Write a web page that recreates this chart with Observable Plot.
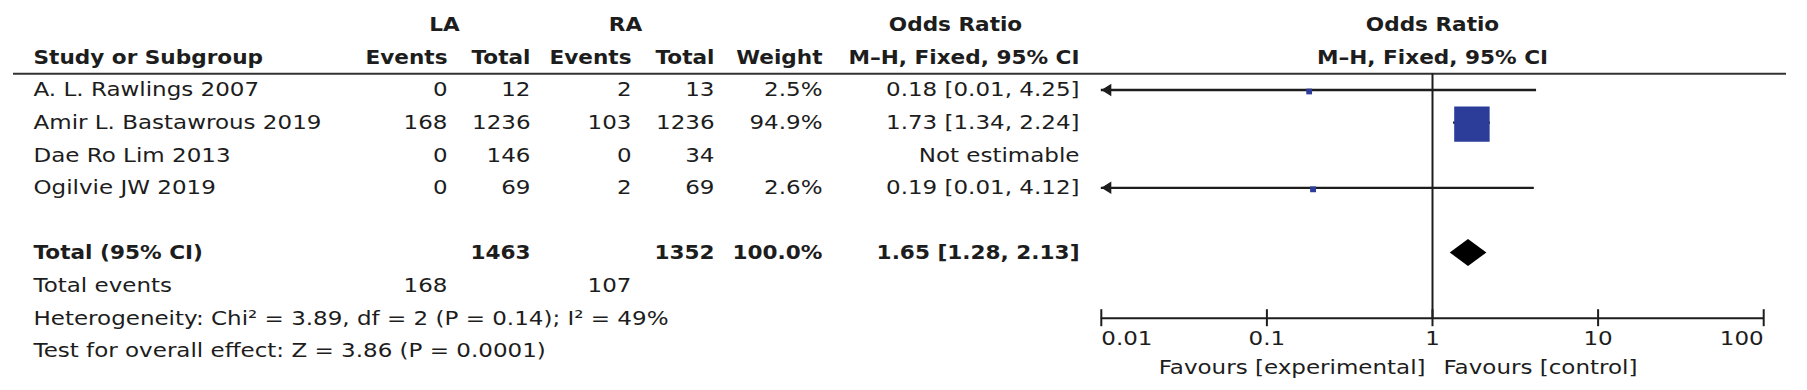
<!DOCTYPE html>
<html><head><meta charset="utf-8">
<script src="https://cdn.jsdelivr.net/npm/d3@7"></script>
<script src="https://cdn.jsdelivr.net/npm/@observablehq/plot@0.6"></script>
<style>
html,body{margin:0;padding:0;background:#fff;}
#chart{display:flex;width:1807px;height:390px;overflow:hidden;}
#chart svg{display:block;flex:none;}
</style></head><body><div id="chart"></div>
<script>
// ---------------- data ----------------
const studies = ["A. L. Rawlings 2007", "Amir L. Bastawrous 2019", "Dae Ro Lim 2013", "Ogilvie JW 2019"];
const laEvents = [0, 168, 0, 0];
const laTotal = [12, 1236, 146, 69];
const raEvents = [2, 103, 0, 2];
const raTotal = [13, 1236, 34, 69];
const weights = [2.5, 94.9, null, 2.6];
const orEst = [0.18, 1.73, null, 0.19];
const orLow = [0.01, 1.34, null, 0.01];
const orHigh = [4.25, 2.24, null, 4.12];
const totalLabel = "Total (95% CI)";
const totalN = [1463, 1352];          // LA, RA
const totalWeight = 100.0;
const totalOR = [1.65, 1.28, 2.13];   // estimate, low, high
const totalEventsLabel = "Total events";
const totalEvents = [168, 107];       // LA, RA
const heterogeneity = "Heterogeneity: Chi² = 3.89, df = 2 (P = 0.14); I² = 49%";
const overallEffect = "Test for overall effect: Z = 3.86 (P = 0.0001)";
const tickValues = [0.01, 0.1, 1, 10, 100];
const tickLabels = ["0.01", "0.1", "1", "10", "100"];
const favours = ["Favours [experimental]", "Favours [control]"];
const groupHeaders = ["LA", "RA", "Odds Ratio"];
const columnHeaders = ["Study or Subgroup", "Events", "Total", "Events", "Total", "Weight", "M–H, Fixed, 95% CI"];
const plotHeaders = ["Odds Ratio", "M–H, Fixed, 95% CI"];

// ---------------- layout ----------------
const FONT = "DejaVu Sans";
const ink = "#1d1d1d";
const blue = "#2b3c99";
const colKeys = ["study", "laEvents", "laTotal", "raEvents", "raTotal", "weight", "ci"];
const colX = {study: 33, laEvents: 447, laTotal: 530, raEvents: 631, raTotal: 714, weight: 822, ci: 1079};
const groupX = [444, 625, 955];
const slot = {hdr1: -2, hdr2: -1, rule: -0.5, total: 5, events: 6, het: 7, test: 8};
const yDomain = [-2, 8], yRange = [24.3, 350.3];
const slotPx = (yRange[1] - yRange[0]) / (yDomain[1] - yDomain[0]);
const yScale = {type: "linear", domain: yDomain, range: yRange, axis: null};
const tickHalf = 8.5 / slotPx;
const diamondHalf = 13.6 / slotPx;

const rows = studies.map((s, i) => ({
  study: s, laEvents: laEvents[i], laTotal: laTotal[i], raEvents: raEvents[i], raTotal: raTotal[i],
  weight: weights[i], est: orEst[i], lo: orLow[i], hi: orHigh[i], slot: i
}));
const fmtCI = (e, l, h) => e == null ? "Not estimable" : `${e.toFixed(2)} [${l.toFixed(2)}, ${h.toFixed(2)}]`;
const fmtW = w => w.toFixed(1) + "%";

const style = {fontFamily: FONT, fontSize: "20px", color: ink, background: "#fff"};

// ---------------- table ----------------
const numCols = ["laEvents", "laTotal", "raEvents", "raTotal"];
const table = Plot.plot({
  width: 1090, height: 390, marginLeft: 13, marginRight: 0, marginTop: 0, marginBottom: 0,
  x: {type: "identity"}, y: yScale, style,
  marks: [
    Plot.ruleY([slot.rule], {stroke: "#333", strokeWidth: 2}),
    Plot.text(groupHeaders, {x: (d, i) => groupX[i], y: () => slot.hdr1, text: d => d, fontWeight: "bold"}),
    Plot.text(columnHeaders.slice(0, 1), {x: () => colX.study, y: () => slot.hdr2, text: d => d, fontWeight: "bold", textAnchor: "start"}),
    Plot.text(columnHeaders.slice(1), {x: (d, i) => colX[colKeys[i + 1]], y: () => slot.hdr2, text: d => d, fontWeight: "bold", textAnchor: "end"}),
    Plot.text(rows, {x: () => colX.study, y: "slot", text: "study", textAnchor: "start"}),
    ...numCols.map(k => Plot.text(rows, {x: () => colX[k], y: "slot", text: d => String(d[k]), textAnchor: "end"})),
    Plot.text(rows.filter(d => d.weight != null), {x: () => colX.weight, y: "slot", text: d => fmtW(d.weight), textAnchor: "end"}),
    Plot.text(rows, {x: () => colX.ci, y: "slot", text: d => fmtCI(d.est, d.lo, d.hi), textAnchor: "end"}),
    // total row
    Plot.text([totalLabel], {x: () => colX.study, y: () => slot.total, text: d => d, textAnchor: "start", fontWeight: "bold"}),
    Plot.text(totalN, {x: (d, i) => [colX.laTotal, colX.raTotal][i], y: () => slot.total, text: d => String(d), textAnchor: "end", fontWeight: "bold"}),
    Plot.text([totalWeight], {x: () => colX.weight, y: () => slot.total, text: d => fmtW(d), textAnchor: "end", fontWeight: "bold"}),
    Plot.text([totalOR], {x: () => colX.ci, y: () => slot.total, text: d => fmtCI(d[0], d[1], d[2]), textAnchor: "end", fontWeight: "bold"}),
    // total events and statistics
    Plot.text([totalEventsLabel], {x: () => colX.study, y: () => slot.events, text: d => d, textAnchor: "start"}),
    Plot.text(totalEvents, {x: (d, i) => [colX.laEvents, colX.raEvents][i], y: () => slot.events, text: d => String(d), textAnchor: "end"}),
    Plot.text([heterogeneity], {x: () => colX.study, y: () => slot.het, text: d => d, textAnchor: "start"}),
    Plot.text([overallEffect], {x: () => colX.study, y: () => slot.test, text: d => d, textAnchor: "start"})
  ]
});

// ---------------- forest ----------------
const leftTriangle = {draw(ctx) { const L = 10, W = 12.5; ctx.moveTo(0, 0); ctx.lineTo(L, -W / 2); ctx.lineTo(L, W / 2); ctx.closePath(); }};
const est = rows.filter(d => d.est != null);
const diamond = [
  {x: totalOR[1], y1: slot.total, y2: slot.total},
  {x: totalOR[0], y1: slot.total - diamondHalf, y2: slot.total + diamondHalf},
  {x: totalOR[2], y1: slot.total, y2: slot.total}
];
const lastTick = tickValues.length - 1;
const forest = Plot.plot({
  width: 717, height: 390, marginLeft: 0, marginRight: 21, marginTop: 0, marginBottom: 0,
  x: {type: "log", domain: [tickValues[0], tickValues[lastTick]], range: [10.8, 673.2], axis: null},
  y: yScale,
  r: {type: "sqrt", domain: [0, d3.max(weights)], range: [0, 20]},
  style,
  marks: [
    Plot.ruleY([slot.rule], {stroke: "#333", strokeWidth: 2}),
    Plot.text(plotHeaders, {x: () => 1, y: (d, i) => [slot.hdr1, slot.hdr2][i], text: d => d, fontWeight: "bold"}),
    Plot.ruleY(est, {y: "slot", x1: d => Math.max(d.lo, tickValues[0]), x2: "hi", stroke: ink, strokeWidth: 2.3}),
    Plot.dot(est, {x: "est", y: "slot", r: "weight", symbol: "square", fill: blue, stroke: "none", dy: 1.5}),
    Plot.dot(est.filter(d => d.lo <= tickValues[0]), {x: () => tickValues[0], y: "slot", symbol: leftTriangle, r: 5, fill: ink, stroke: "none"}),
    Plot.area(diamond, {x1: "x", x2: "x", y1: "y1", y2: "y2", fill: "#000", curve: "linear"}),
    Plot.ruleX([1], {y1: () => slot.rule, y2: () => slot.het, stroke: ink, strokeWidth: 2}),
    Plot.ruleY([slot.het], {x1: () => tickValues[0], x2: () => tickValues[lastTick], stroke: ink, strokeWidth: 2}),
    Plot.ruleX(tickValues, {x: d => d, y1: () => slot.het - tickHalf, y2: () => slot.het + tickHalf, stroke: ink, strokeWidth: 2}),
    Plot.text(tickValues.slice(0, 1), {x: d => d, y: () => slot.het, dy: 20.3, text: () => tickLabels[0], textAnchor: "start"}),
    Plot.text(tickValues.slice(1, lastTick), {x: d => d, y: () => slot.het, dy: 20.3, text: (d, i) => tickLabels[i + 1]}),
    Plot.text(tickValues.slice(lastTick), {x: d => d, y: () => slot.het, dy: 20.3, text: () => tickLabels[lastTick], textAnchor: "end"}),
    Plot.text([favours[0]], {x: () => 1, y: () => slot.het, dy: 49, dx: -7, text: d => d, textAnchor: "end"}),
    Plot.text([favours[1]], {x: () => 1, y: () => slot.het, dy: 49, dx: 11, text: d => d, textAnchor: "start"})
  ]
});

const el = document.getElementById("chart");
el.appendChild(table); el.appendChild(forest);

// widen glyphs horizontally (via textLength) to match the reference typeface proportions
function stretch(svg) {
  svg.querySelectorAll("text").forEach(t => {
    const g = t.closest("g");
    const fw = t.getAttribute("font-weight") || (g && g.getAttribute("font-weight")) || "";
    const bold = /bold|[6-9]00/.test(fw);
    const s = bold ? 1.08 : 1.15;
    const len = t.getComputedTextLength();
    if (len > 0) {
      t.setAttribute("textLength", (len * s).toFixed(1));
      t.setAttribute("lengthAdjust", "spacingAndGlyphs");
    }
  });
}
stretch(table); stretch(forest);
</script></body></html>
